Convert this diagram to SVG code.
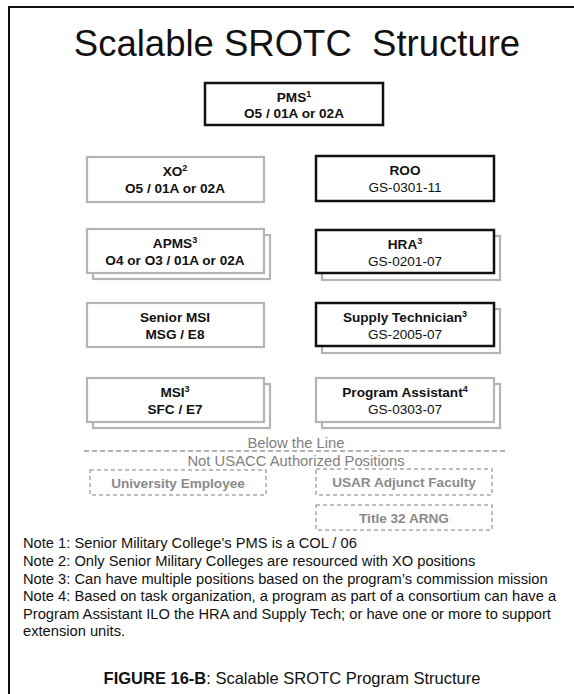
<svg xmlns="http://www.w3.org/2000/svg" width="574" height="694" viewBox="0 0 574 694">
<style>
text{font-family:"Liberation Sans",Arial,sans-serif;fill:#111}
.t{font-size:13.6px;text-anchor:middle}
.b{font-weight:bold}
.sup{font-size:9px}
.blk{fill:#fff;stroke:#111;stroke-width:2.5}
.gry{fill:#fff;stroke:#b4b4b4;stroke-width:2.2}
.dsh{fill:none;stroke:#aaa;stroke-width:1.5;stroke-dasharray:4 3}
.g{fill:#8a8a8a}
.lbl{font-size:14.8px;text-anchor:middle;fill:#808080}
.note{font-size:14.7px}
</style>
<rect x="9" y="7" width="600" height="700" fill="#fff" stroke="#111" stroke-width="2"/>
<text x="297" y="56" style="font-size:36.5px;text-anchor:middle">Scalable SROTC&#160; Structure</text>

<g id="pms">
<rect class="blk" x="205" y="83" width="178" height="42"/>
<text class="t b" x="294" y="102">PMS<tspan class="sup" dy="-5">1</tspan></text>
<text class="t b" x="294" y="118">O5 / 01A or 02A</text>
</g>

<g id="xo">
<rect class="gry" x="87" y="157" width="177" height="45"/>
<text class="t b" x="175" y="176">XO<tspan class="sup" dy="-5">2</tspan></text>
<text class="t b" x="175" y="193">O5 / 01A or 02A</text>
</g>

<g id="roo">
<rect class="blk" x="316" y="156" width="178" height="45"/>
<text class="t b" x="405" y="175">ROO</text>
<text class="t" x="405" y="192">GS-0301-11</text>
</g>

<g id="apms">
<rect class="gry" x="93" y="235" width="177" height="44"/>
<rect class="gry" x="87" y="229" width="177" height="44"/>
<text class="t b" x="175" y="248">APMS<tspan class="sup" dy="-5">3</tspan></text>
<text class="t b" x="175" y="265">O4 or O3 / 01A or 02A</text>
</g>

<g id="hra">
<rect class="gry" x="322" y="236" width="178" height="44"/>
<rect class="blk" x="316" y="230" width="178" height="43"/>
<text class="t b" x="405" y="249">HRA<tspan class="sup" dy="-5">3</tspan></text>
<text class="t" x="405" y="266">GS-0201-07</text>
</g>

<g id="senior-msi">
<rect class="gry" x="87" y="303" width="177" height="44"/>
<text class="t b" x="175" y="322">Senior MSI</text>
<text class="t b" x="175" y="339">MSG / E8</text>
</g>

<g id="supply">
<rect class="gry" x="322" y="309" width="178" height="44"/>
<rect class="blk" x="316" y="303" width="178" height="43"/>
<text class="t b" x="405" y="322">Supply Technician<tspan class="sup" dy="-5">3</tspan></text>
<text class="t" x="405" y="339">GS-2005-07</text>
</g>

<g id="msi">
<rect class="gry" x="93" y="384" width="177" height="44"/>
<rect class="gry" x="87" y="378" width="177" height="44"/>
<text class="t b" x="175" y="397">MSI<tspan class="sup" dy="-5">3</tspan></text>
<text class="t b" x="175" y="414">SFC / E7</text>
</g>

<g id="program-assistant">
<rect class="gry" x="322" y="384" width="178" height="44"/>
<rect class="gry" x="316" y="378" width="178" height="44"/>
<text class="t b" x="405" y="397">Program Assistant<tspan class="sup" dy="-5">4</tspan></text>
<text class="t" x="405" y="414">GS-0303-07</text>
</g>

<g id="connectors">
<line x1="84" y1="451" x2="507" y2="451" stroke="#999" stroke-width="1.3" stroke-dasharray="5 3"/>
</g>
<text class="lbl" x="296" y="448">Below the Line</text>
<text class="lbl" x="296" y="466">Not USACC Authorized Positions</text>

<g id="university-employee">
<rect class="dsh" x="90" y="470" width="176" height="25"/>
<text class="t b g" x="178" y="488">University Employee</text>
</g>
<g id="usar">
<rect class="dsh" x="316" y="469" width="176" height="26"/>
<text class="t b g" x="404" y="487">USAR Adjunct Faculty</text>
</g>
<g id="title32">
<rect class="dsh" x="316" y="505" width="176" height="25"/>
<text class="t b g" x="404" y="523">Title 32 ARNG</text>
</g>

<g id="notes">
<text class="note" x="23" y="548">Note 1: Senior Military College’s PMS is a COL / 06</text>
<text class="note" x="23" y="566">Note 2: Only Senior Military Colleges are resourced with XO positions</text>
<text class="note" x="23" y="584">Note 3: Can have multiple positions based on the program’s commission mission</text>
<text class="note" x="23" y="601">Note 4: Based on task organization, a program as part of a consortium can have a</text>
<text class="note" x="23" y="619">Program Assistant ILO the HRA and Supply Tech; or have one or more to support</text>
<text class="note" x="23" y="636">extension units.</text>
</g>
<text x="292" y="684" style="font-size:16.5px;text-anchor:middle"><tspan font-weight="bold">FIGURE 16-B</tspan>: Scalable SROTC Program Structure</text>
</svg>
